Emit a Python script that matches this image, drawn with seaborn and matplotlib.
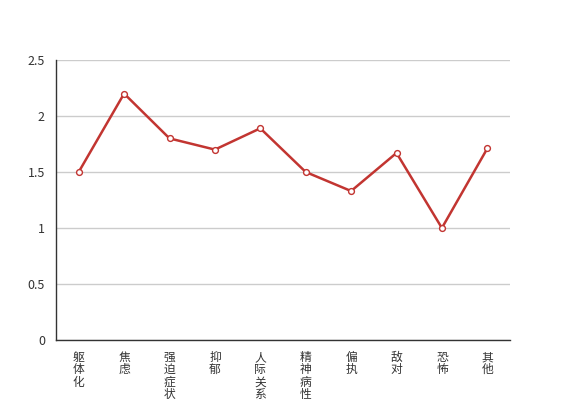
import pandas as pd
import seaborn as sns
import matplotlib
matplotlib.use("Agg")
import matplotlib.pyplot as plt
from matplotlib.ticker import FixedLocator, FuncFormatter, NullFormatter

# factor names and mean scores
factors = ["躯体化", "焦虑", "强迫症状", "抑郁", "人际关系敏感", "精神病性", "偏执", "敌对", "恐怖", "其他"]
scores = [1.5, 2.2, 1.8, 1.7, 1.89, 1.5, 1.33, 1.67, 1.0, 1.71]
y_ticks = [0, 0.5, 1, 1.5, 2, 2.5]

sns.set_style("white")
plt.rcParams['font.family'] = ['Noto Sans CJK SC', 'DejaVu Sans']

df = pd.DataFrame({"factor": factors, "score": scores})

fig = plt.figure(figsize=(5.67, 4), dpi=100)
ax = fig.add_axes([56 / 567, 60 / 400, 454 / 567, 280 / 400])

sns.lineplot(data=df, x="factor", y="score", ax=ax, color="#c23531", linewidth=1.8,
             marker="o", markersize=4.2, markerfacecolor="white",
             markeredgecolor="#c23531", markeredgewidth=1, zorder=3)

ax.set_xlim(-0.5, len(factors) - 0.5)
ax.set_ylim(0, 2.5)

# ticks between categories, labels at the category centres (written top to bottom)
ax.xaxis.set_major_locator(FixedLocator([i - 0.5 for i in range(len(factors) + 1)]))
ax.xaxis.set_major_formatter(NullFormatter())
ax.xaxis.set_minor_locator(FixedLocator(range(len(factors))))
ax.set_xticklabels(["\n".join(f) for f in factors], minor=True)
ax.tick_params(axis="x", which="major", direction="out", length=5, color="#333333", width=1)
ax.tick_params(axis="x", which="minor", length=0, pad=8, labelsize=8.5, labelcolor="#333333")
for lab in ax.get_xticklabels(minor=True):
    lab.set_linespacing(0.92)
    lab.set_verticalalignment("top")

ax.set_yticks(y_ticks)
ax.yaxis.set_major_formatter(FuncFormatter(lambda v, p: f"{v:g}"))
ax.tick_params(axis="y", direction="out", length=5, color="#333333", width=1,
               labelsize=9, labelcolor="#333333", pad=3)

ax.grid(axis="y", color="#cccccc", linewidth=1)
ax.set_axisbelow(True)
for side in ["top", "right"]:
    ax.spines[side].set_visible(False)
for side in ["left", "bottom"]:
    ax.spines[side].set_color("#333333")
    ax.spines[side].set_linewidth(1)
    ax.spines[side].set_zorder(4)

ax.set_xlabel("")
ax.set_ylabel("")

fig.savefig("out.png", dpi=100)
